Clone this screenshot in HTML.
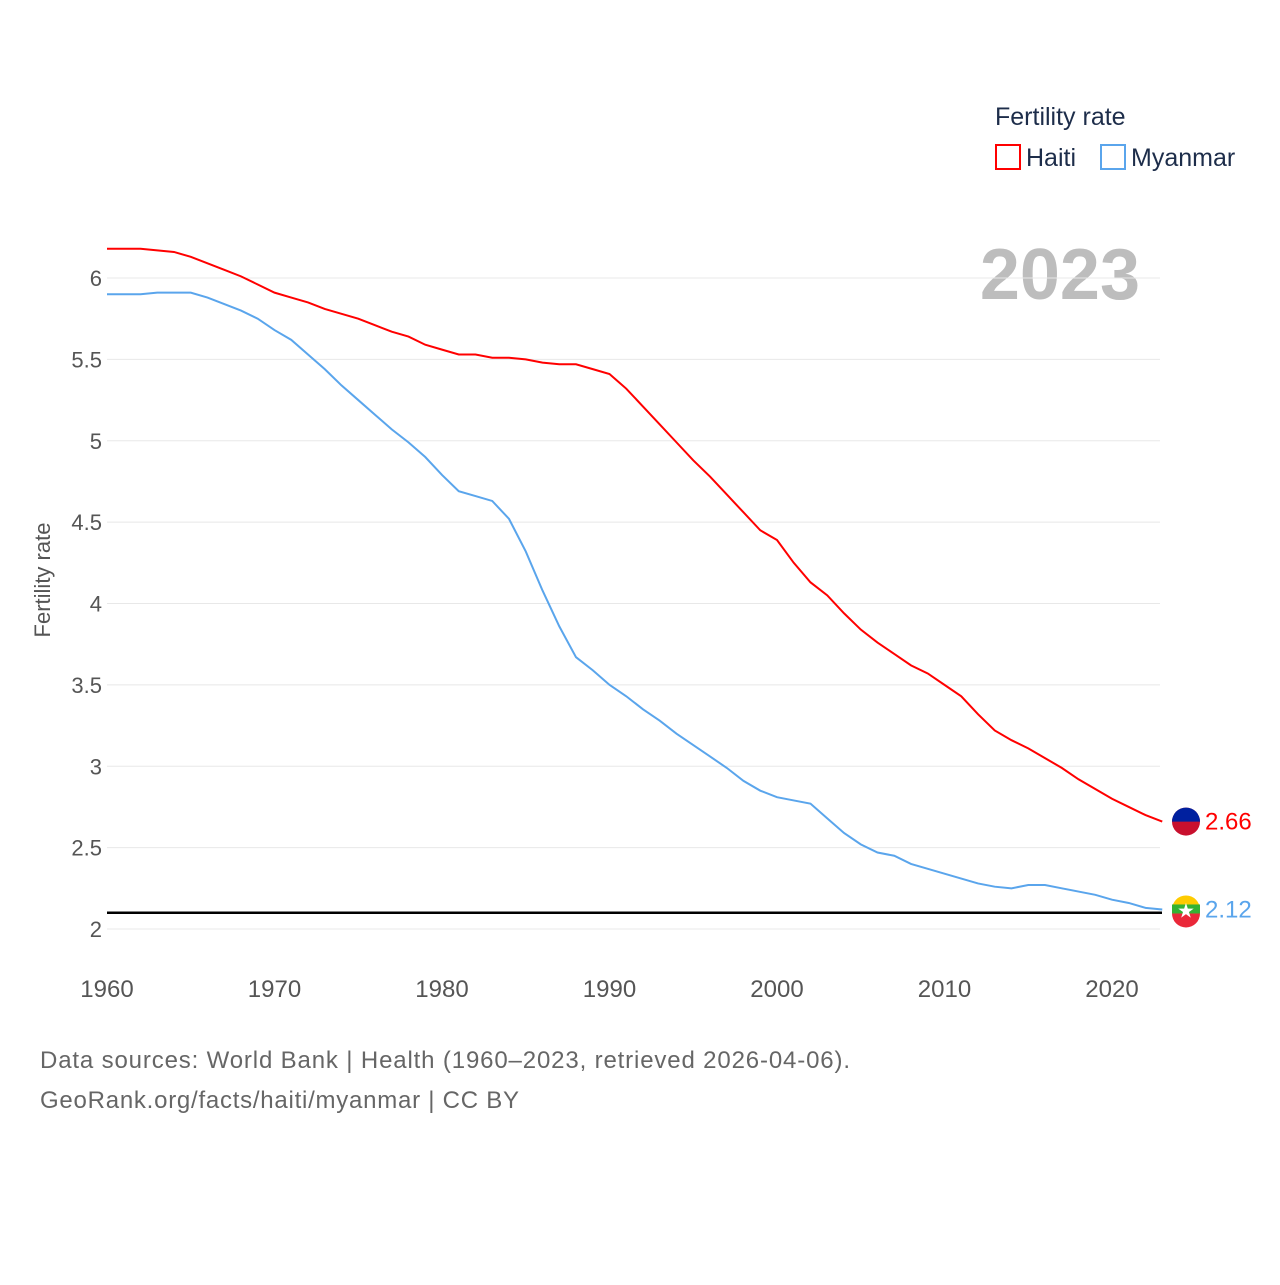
<!DOCTYPE html>
<html><head><meta charset="utf-8"><style>
body{margin:0;background:#fff;font-family:"Liberation Sans",sans-serif}
svg text{font-family:"Liberation Sans",sans-serif}
</style></head><body>
<svg id="c" width="1280" height="1280">
<text x="995" y="125" font-size="25" fill="#1d2d4a">Fertility rate</text>
<g><rect x="996" y="145" width="24" height="24" fill="none" stroke="#f00" stroke-width="2"/><text x="1026" y="166" font-size="25" fill="#1d2d4a">Haiti</text></g>
<g><rect x="1101" y="145" width="24" height="24" fill="none" stroke="#5aa5ec" stroke-width="2"/><text x="1131" y="166" font-size="25" fill="#1d2d4a">Myanmar</text></g>
<text x="1140" y="299" font-size="72" font-weight="bold" fill="#bdbdbd" text-anchor="end">2023</text>
<text transform="translate(50,580) rotate(-90)" font-size="22" fill="#555" text-anchor="middle">Fertility rate</text>
<g id="grid"></g><g id="lines"></g>
<text x="40" y="1068" font-size="24" fill="#666" textLength="810">Data sources: World Bank | Health (1960–2023, retrieved 2026-04-06).</text>
<text x="40" y="1108" font-size="24" fill="#666" textLength="479">GeoRank.org/facts/haiti/myanmar | CC BY</text>
</svg>
<script>
const years=[];for(let y=1960;y<=2023;y++)years.push(y);
const haiti=[6.18,6.18,6.18,6.17,6.16,6.13,6.09,6.05,6.01,5.96,5.91,5.88,5.85,5.81,5.78,5.75,5.71,5.67,5.64,5.59,5.56,5.53,5.53,5.51,5.51,5.50,5.48,5.47,5.47,5.44,5.41,5.32,5.21,5.10,4.99,4.88,4.78,4.67,4.56,4.45,4.39,4.25,4.13,4.05,3.94,3.84,3.76,3.69,3.62,3.57,3.50,3.43,3.32,3.22,3.16,3.11,3.05,2.99,2.92,2.86,2.80,2.75,2.70,2.66];
const myanmar=[5.90,5.90,5.90,5.91,5.91,5.91,5.88,5.84,5.80,5.75,5.68,5.62,5.53,5.44,5.34,5.25,5.16,5.07,4.99,4.90,4.79,4.69,4.66,4.63,4.52,4.32,4.08,3.86,3.67,3.59,3.50,3.43,3.35,3.28,3.20,3.13,3.06,2.99,2.91,2.85,2.81,2.79,2.77,2.68,2.59,2.52,2.47,2.45,2.40,2.37,2.34,2.31,2.28,2.26,2.25,2.27,2.27,2.25,2.23,2.21,2.18,2.16,2.13,2.12];
const yTicks=[2,2.5,3,3.5,4,4.5,5,5.5,6];
const xTicks=[1960,1970,1980,1990,2000,2010,2020];
const replacement=2.1;
const X=y=>107+(y-1960)*16.75, Y=v=>929-(v-2)*162.75;
const NS="http://www.w3.org/2000/svg";
const mk=(p,t,a)=>{const e=document.createElementNS(NS,t);for(const k in a)e.setAttribute(k,a[k]);p.appendChild(e);return e;};
const g=document.getElementById('grid'),L=document.getElementById('lines');
yTicks.forEach(v=>{
 const l=mk(g,'line',{x1:107,x2:1160,y1:Y(v),y2:Y(v),stroke:'#e8e8e8','stroke-width':1});
 
 
 const t=mk(g,'text',{x:102,y:Y(v)+8,'font-size':22,fill:'#555','text-anchor':'end'});t.textContent=v;
 
 
});
xTicks.forEach(v=>{
 const t=mk(g,'text',{x:X(v),y:997,'font-size':24,fill:'#555','text-anchor':'middle'});t.textContent=v;
 
 
});
const r=mk(L,'line',{x1:107,x2:1162,y1:Y(replacement),y2:Y(replacement),stroke:'#000','stroke-width':2.5});


[[haiti,'#f00','haiti'],[myanmar,'#5aa5ec','myanmar']].forEach(([d,c,n])=>{
 const p=mk(L,'path',{d:d.map((v,i)=>(i?'L':'M')+X(years[i])+','+Y(v)).join(''),fill:'none',stroke:c,'stroke-width':2});
 
 
 const last=d[d.length-1],cy=Y(last);
 const ci=mk(L,'circle',{cx:1186,cy:cy,r:14,fill:n=='haiti'?'#c8102e':'#fecb00'});
 
 
 if(n=='haiti')mk(L,'path',{d:`M1172,${cy} A14,14 0 0 1 1200,${cy} Z`,fill:'#00209f'});
 else{mk(L,'rect',{x:1172,y:cy-5,width:28,height:9,fill:'#34b233'});mk(L,'path',{d:`M1172,${cy+4} L1200,${cy+4} A14,14 0 0 1 1172,${cy+4} Z`,fill:'#ea2839'});mk(L,'text',{x:1186,y:cy+8,'font-size':20,fill:'#fff','text-anchor':'middle'}).textContent='★';}
 const t=mk(L,'text',{x:1205,y:cy+8,'font-size':24,fill:c});t.textContent=last.toFixed(2);
 
 
});
</script>
</body></html>
